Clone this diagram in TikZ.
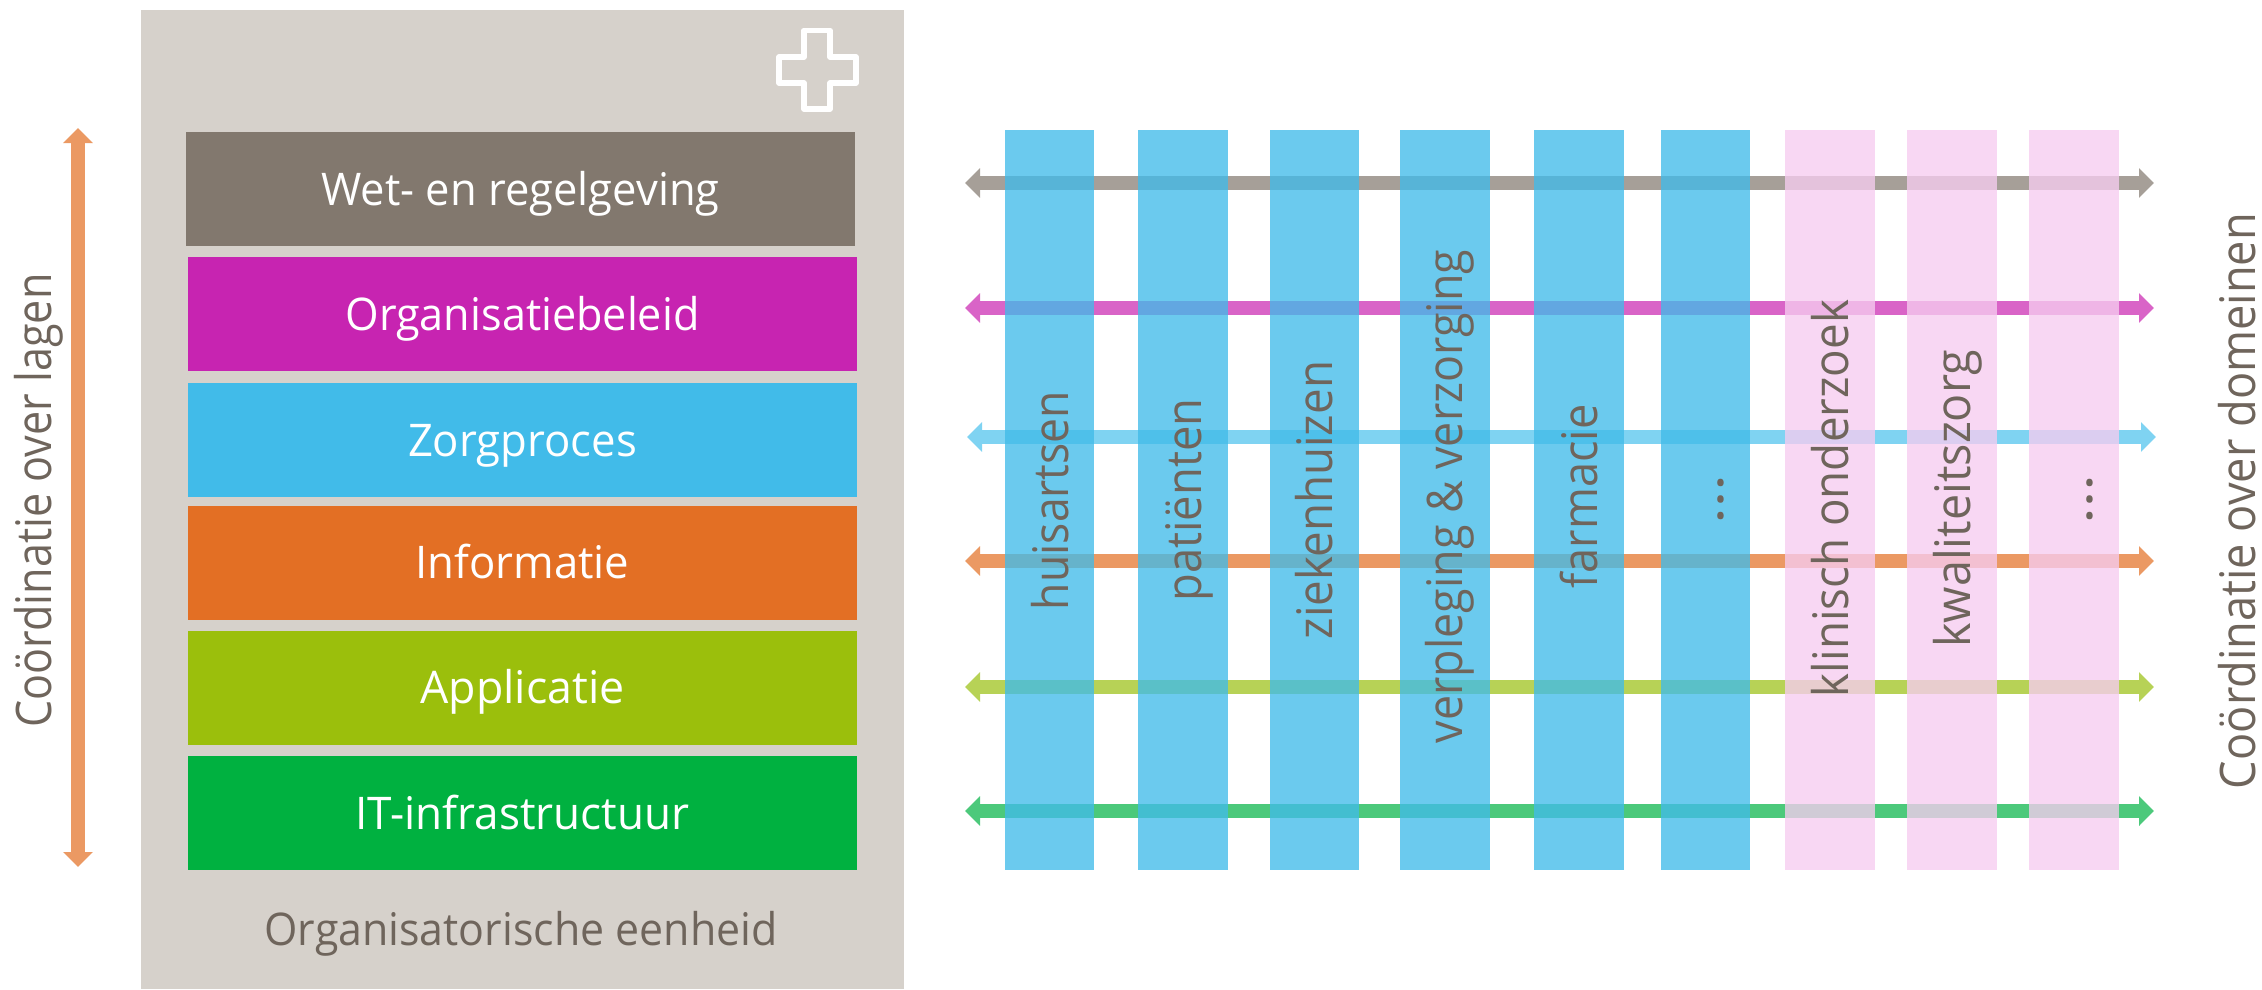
\documentclass[tikz,border=0pt]{standalone}
\usepackage{fontspec}
\usepackage{graphicx}
\setmainfont{Open Sans}
\usetikzlibrary{arrows.meta}
\definecolor{panelc}{HTML}{D6D1CB}
\definecolor{inkc}{HTML}{6F655C}
\definecolor{lawc}{HTML}{82786E}
\definecolor{polc}{HTML}{C724B1}
\definecolor{carec}{HTML}{41BBE9}
\definecolor{infoc}{HTML}{E36F24}
\definecolor{appc}{HTML}{9BBF0C}
\definecolor{itc}{HTML}{00B140}
\definecolor{alaw}{HTML}{A69F98}
\definecolor{apol}{HTML}{D964C7}
\definecolor{acare}{HTML}{7FD3F2}
\definecolor{ainfo}{HTML}{EB9963}
\definecolor{aapp}{HTML}{B7D256}
\definecolor{ait}{HTML}{4CC97B}
\definecolor{pinkc}{HTML}{F6CCF0}
\newcommand{\wtxt}[2]{\resizebox{#1pt}{\height}{#2}}
\tikzset{
  layerbox/.style={inner sep=0pt,outer sep=0pt,minimum width=669pt,minimum height=114pt,text height=73pt,text depth=41pt,text=white,font=\fontsize{45pt}{45pt}\selectfont},
  stripbase/.style={inner sep=0pt,outer sep=0pt,minimum height=740pt,fill opacity=.78},
  bluestrip/.style={stripbase,fill=carec},
  pinkstrip/.style={stripbase,fill=pinkc},
  vlabel/.style={inner sep=0pt,anchor=base,rotate=90,text=inkc,font=\fontsize{49pt}{49pt}\selectfont},
  band/.style={line width=14.5pt,{Triangle[length=15pt,width=29pt]}-{Triangle[length=15pt,width=29pt]}}
}
\begin{document}
\begin{tikzpicture}[x=1pt,y=-1pt]
\useasboundingbox (0,0) rectangle (2262,989);
% panel
\node[inner sep=0pt,outer sep=0pt,fill=panelc,minimum width=763pt,minimum height=979pt] (panel) at (522.5,499.5) {};
\draw[white,line width=5.7pt,line join=round] (804,30.5) -- (830,30.5) -- (830,57) -- (856,57) -- (856,83) -- (830,83) -- (830,109) -- (804,109) -- (804,83) -- (779,83) -- (779,57) -- (804,57) -- cycle;
% layers
\node[layerbox,fill=lawc] (law) at (520.5,189) {\wtxt{398}{Wet- en regelgeving}};
\node[layerbox,fill=polc] (pol) at (522.5,314) {\wtxt{354}{Organisatiebeleid}};
\node[layerbox,fill=carec] (care) at (522.5,440) {\wtxt{229}{Zorgproces}};
\node[layerbox,fill=infoc] (info) at (522.5,562.5) {\wtxt{214}{Informatie}};
\node[layerbox,fill=appc] (app) at (522.5,687.5) {\wtxt{204}{Applicatie}};
\node[layerbox,fill=itc] (it) at (522.5,813) {\wtxt{334}{IT-infrastructuur}};
\node[inner sep=0pt,anchor=base,text=inkc,font=\fontsize{45pt}{45pt}\selectfont] (unit) at (521,945) {\wtxt{513}{Organisatorische eenheid}};
% layer arrow
\coordinate (vtop) at (78,128);
\coordinate (vbot) at (78,867);
\draw[ainfo,line width=14.5pt,{Triangle[length=15pt,width=29pt]}-{Triangle[length=15pt,width=29pt]}] (vtop) -- (vbot);
\node[vlabel] (ltext) at (51,500.5) {\wtxt{454}{Coördinatie over lagen}};
% horizontal bands
\coordinate (l1) at (965,183); \coordinate (r1) at (2154,183);
\coordinate (l2) at (965,308); \coordinate (r2) at (2154,308);
\coordinate (l3) at (967,437); \coordinate (r3) at (2156,437);
\coordinate (l4) at (965,561); \coordinate (r4) at (2154,561);
\coordinate (l5) at (965,687); \coordinate (r5) at (2154,687);
\coordinate (l6) at (965,811); \coordinate (r6) at (2154,811);
\draw[band,alaw] (l1) -- (r1);
\draw[band,apol] (l2) -- (r2);
\draw[band,acare] (l3) -- (r3);
\draw[band,ainfo] (l4) -- (r4);
\draw[band,aapp] (l5) -- (r5);
\draw[band,ait] (l6) -- (r6);
% strips
\node[bluestrip,minimum width=89pt] (s1) at (1049.5,500) {};
\node[bluestrip,minimum width=90pt] (s2) at (1183,500) {};
\node[bluestrip,minimum width=89pt] (s3) at (1314.5,500) {};
\node[bluestrip,minimum width=90pt] (s4) at (1445,500) {};
\node[bluestrip,minimum width=90pt] (s5) at (1579,500) {};
\node[bluestrip,minimum width=89pt] (s6) at (1705.5,500) {};
\node[pinkstrip,minimum width=90pt] (s7) at (1830,500) {};
\node[pinkstrip,minimum width=90pt] (s8) at (1952,500) {};
\node[pinkstrip,minimum width=90pt] (s9) at (2074,500) {};
% strip labels
\node[vlabel] (t1) at (1068,500.5) {\wtxt{219}{huisartsen}};
\node[vlabel] (t2) at (1201,500) {\wtxt{203}{patiënten}};
\node[vlabel] (t3) at (1332,500) {\wtxt{278}{ziekenhuizen}};
\node[vlabel] (t4) at (1462.7,496.5) {\wtxt{493}{verpleging \& verzorging}};
\node[vlabel] (t5) at (1597,496.5) {\wtxt{184}{farmacie}};
\node[vlabel] (t6) at (1723,499.5) {\wtxt{50}{…}};
\node[vlabel] (t7) at (1848,498.5) {\wtxt{397}{klinisch onderzoek}};
\node[vlabel] (t8) at (1970,498.7) {\wtxt{298}{kwaliteitszorg}};
\node[vlabel] (t9) at (2092,499.5) {\wtxt{50}{…}};
\node[vlabel] (rtext) at (2255,501) {\wtxt{576}{Coördinatie over domeinen}};
\end{tikzpicture}
\end{document}
